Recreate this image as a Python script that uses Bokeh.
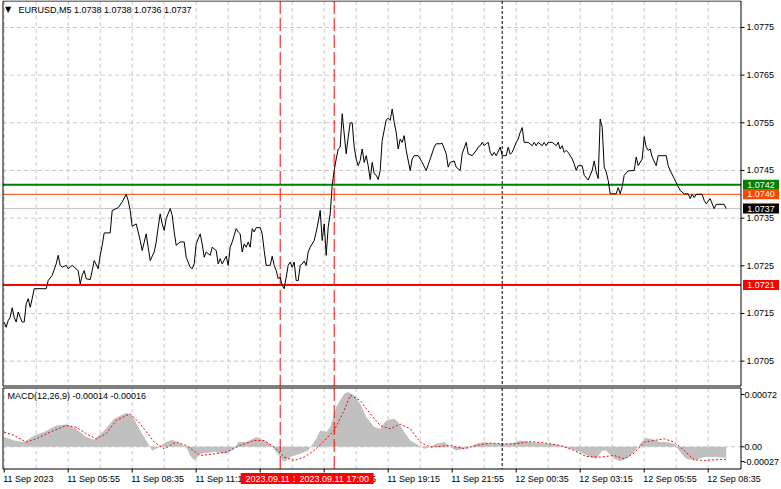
from bokeh.plotting import figure
from bokeh.models import Range1d
from bokeh.core.properties import value
from bokeh.embed import file_html
from bokeh.resources import INLINE

# ---------------- data (5-minute bars counted from 2023-09-11 00:00) ----------------
symbol = "EURUSD,M5"
ohlc_last = [1.0738, 1.0738, 1.0736, 1.0737]

bars = [39, 40, 41, 42, 43, 44, 45, 46, 47, 48, 49, 50, 51, 52, 53, 54, 60, 61, 63, 65,
        66, 67, 68, 70, 71, 73, 74, 76, 77, 78, 79, 80, 82, 83, 84, 86, 87, 88, 89, 92,
        93, 95, 96, 98, 100, 101, 102, 103, 105, 106, 107, 108, 110, 111, 112, 114, 115, 116, 117, 118,
        119, 120, 122, 123, 124, 125, 127, 129, 130, 132, 133, 134, 135, 137, 138, 139, 140, 142, 143, 145,
        146, 147, 148, 150, 151, 152, 153, 155, 156,
        157, 158, 159, 160, 161, 162, 163, 164, 165, 167, 168, 169, 170, 172, 173, 174, 175, 176, 177, 178,
        179, 180, 181, 182, 183, 184, 185, 186, 187, 188, 189, 190, 191, 192, 194, 195, 196, 197, 198, 199,
        200, 201, 202, 203, 204, 205, 206, 207, 208, 209, 210, 211, 212, 213, 214, 215, 216, 217, 218, 219,
        220, 221, 222, 223, 224, 225, 226, 227, 228, 230, 231, 232, 233, 234, 235, 236, 237, 238, 239, 240,
        242, 243, 244, 246, 248, 250, 252, 254, 255, 257, 258, 260, 261, 262, 264, 265, 267, 268, 270, 271,
        273, 275, 276, 277, 278, 279,
        280, 281, 282, 283, 284, 285, 287, 288, 290, 291, 292, 293, 295, 296, 297, 298, 299, 301, 303, 304,
        305, 306, 308, 309, 310, 311, 313, 315, 316, 317, 318, 319, 320, 321, 323, 324, 325, 326, 328, 329,
        331, 332, 333, 334, 335, 336, 337, 338, 339, 340, 341, 342, 345, 346, 347, 348, 349, 351, 354, 355,
        356, 358, 359, 360, 361, 362, 363, 365, 366, 370, 371, 372, 374, 376, 377, 379, 381, 382, 383, 384,
        385, 388, 389, 390, 392, 393, 394, 395, 399, 400]

closes = [1.07132, 1.07121, 1.07135, 1.07142, 1.07162, 1.07142, 1.07132, 1.07153, 1.07142, 1.07132,
          1.07132, 1.07170, 1.07181, 1.07163, 1.07181, 1.07202, 1.07202, 1.07219, 1.07230, 1.07254,
          1.07272, 1.07251, 1.07247, 1.07251, 1.07244, 1.07251, 1.07247, 1.07240, 1.07212, 1.07230,
          1.07240, 1.07223, 1.07221, 1.07240, 1.07261, 1.07244, 1.07272, 1.07293, 1.07319, 1.07319,
          1.07366, 1.07370, 1.07372, 1.07384, 1.07400, 1.07387, 1.07366, 1.07333, 1.07338, 1.07321,
          1.07303, 1.07282, 1.07317, 1.07289, 1.07261, 1.07279, 1.07300, 1.07331, 1.07359, 1.07338,
          1.07324, 1.07349, 1.07370, 1.07356, 1.07321, 1.07293, 1.07300, 1.07300, 1.07268, 1.07247,
          1.07244, 1.07254, 1.07296, 1.07317, 1.07296, 1.07268, 1.07279, 1.07272, 1.07289, 1.07282,
          1.07254, 1.07265, 1.07254, 1.07270, 1.07251, 1.07289, 1.07300, 1.07328, 1.07321,
          1.07317, 1.07279, 1.07296, 1.07289, 1.07300, 1.07289, 1.07328, 1.07321, 1.07330, 1.07330,
          1.07317, 1.07282, 1.07251, 1.07251, 1.07270, 1.07251, 1.07240, 1.07223, 1.07226, 1.07209,
          1.07202, 1.07226, 1.07251, 1.07258, 1.07247, 1.07258, 1.07219, 1.07219, 1.07251, 1.07254,
          1.07260, 1.07251, 1.07279, 1.07289, 1.07303, 1.07321, 1.07342, 1.07366, 1.07303, 1.07338,
          1.07272, 1.07331, 1.07359, 1.07419, 1.07450, 1.07474, 1.07495, 1.07499, 1.07569, 1.07527,
          1.07485, 1.07520, 1.07550, 1.07550, 1.07499, 1.07474, 1.07460, 1.07471, 1.07495, 1.07467,
          1.07481, 1.07460, 1.07431, 1.07467, 1.07443, 1.07440, 1.07431, 1.07450, 1.07513, 1.07556,
          1.07560, 1.07555, 1.07579, 1.07551, 1.07530, 1.07495, 1.07516, 1.07509, 1.07523, 1.07492,
          1.07450, 1.07474, 1.07481, 1.07481, 1.07467, 1.07450, 1.07474, 1.07499, 1.07506, 1.07506,
          1.07507, 1.07485, 1.07457, 1.07467, 1.07470, 1.07457, 1.07450, 1.07485, 1.07509, 1.07485,
          1.07481, 1.07492, 1.07499, 1.07502, 1.07509, 1.07502,
          1.07506, 1.07509, 1.07488, 1.07481, 1.07488, 1.07481, 1.07499, 1.07481, 1.07481, 1.07499,
          1.07484, 1.07488, 1.07509, 1.07516, 1.07530, 1.07540, 1.07509, 1.07509, 1.07502, 1.07509,
          1.07502, 1.07509, 1.07502, 1.07509, 1.07502, 1.07509, 1.07509, 1.07502, 1.07509, 1.07495,
          1.07502, 1.07488, 1.07492, 1.07488, 1.07474, 1.07464, 1.07450, 1.07460, 1.07460, 1.07440,
          1.07430, 1.07440, 1.07450, 1.07470, 1.07447, 1.07433, 1.07558, 1.07541, 1.07457, 1.07447,
          1.07429, 1.07401, 1.07401, 1.07414, 1.07401, 1.07416, 1.07440, 1.07449, 1.07450, 1.07478,
          1.07460, 1.07474, 1.07521, 1.07499, 1.07492, 1.07495, 1.07478, 1.07460, 1.07481, 1.07481,
          1.07460, 1.07450, 1.07433, 1.07416, 1.07408, 1.07401, 1.07401, 1.07391, 1.07400, 1.07393,
          1.07400, 1.07400, 1.07387, 1.07380, 1.07391, 1.07380, 1.07370, 1.07379, 1.07379, 1.07370]

macd_title = "MACD(12,26,9)"
macd_last = -0.00014
signal_last = -0.00016

hist_bars = [39, 44, 49, 54, 59, 65, 70, 75, 80, 84, 89, 94, 100, 103, 107, 110, 113, 115, 120, 123,
             127, 130, 132, 134, 137, 144, 150, 154, 156, 160, 165, 169, 172, 175, 179, 182, 187, 191, 195, 197,
             200, 202, 205, 209, 211, 214, 217, 220, 224, 227, 230, 234, 236, 239, 242, 245, 249, 252, 255, 259,
             262, 265, 269, 272, 275, 279, 282, 287, 292, 297, 302, 307, 312, 317, 322, 327, 332, 335, 338, 340,
             344, 347, 350, 354, 357, 360, 364, 367, 370, 374, 377, 380, 384, 389, 394, 400]
hist_vals = [0.000124, 0.000081, 0.000060, 0.000145, 0.000188, 0.000273, 0.000286, 0.000231, 0.000124, 0.000090,
             0.000209, 0.000359, 0.000436, 0.000401, 0.000209, 0.000081, -0.000047, -0.000026, 0.000060, 0.000090,
             0.000038, -0.000004, -0.000111, -0.000175, -0.000090, -0.000068, -0.000090, -0.000026, 0.000060, 0.000060,
             0.000124, 0.000081, 0.000038, -0.000068, -0.000196, -0.000132, -0.000090, -0.000047, 0.000102, 0.000209,
             0.000188, 0.000252, 0.000508, 0.000679, 0.000700, 0.000658, 0.000551, 0.000380, 0.000252, 0.000231,
             0.000337, 0.000359, 0.000316, 0.000188, 0.000081, 0.000038, -0.000026, -0.000004, 0.000038, 0.000060,
             -0.000004, -0.000047, -0.000026, -0.000004, 0.000038, 0.000060, 0.000047, 0.000038, 0.000038, 0.000081,
             0.000060, 0.000047, 0.000038, 0.000017, -0.000026, -0.000068, -0.000132, -0.000154, -0.000047, -0.000047,
             -0.000154, -0.000184, -0.000154, -0.000068, 0.000038, 0.000115, 0.000090, 0.000060, 0.000060, 0.000038,
             -0.000068, -0.000154, -0.000175, -0.000132, -0.000130, -0.000140]

sig_bars = [39, 44, 50, 55, 62, 70, 75, 80, 85, 90, 95, 102, 107, 114, 119, 125, 130, 137, 144, 150,
            157, 164, 169, 174, 179, 184, 189, 194, 200, 204, 209, 212, 217, 222, 227, 232, 237, 242, 247, 252,
            257, 262, 269, 275, 282, 289, 295, 302, 310, 317, 324, 330, 337, 344, 349, 354, 359, 364, 369, 374,
            379, 384, 389, 394, 400]
sig_vals = [0.000188, 0.000145, 0.000060, 0.000102, 0.000188, 0.000273, 0.000252, 0.000167, 0.000102, 0.000167,
            0.000337, 0.000423, 0.000295, 0.000060, -0.000026, 0.000060, 0.000017, -0.000111, -0.000090, -0.000068,
            0.000017, 0.000081, 0.000081, -0.000004, -0.000132, -0.000175, -0.000132, -0.000047, 0.000102, 0.000209,
            0.000465, 0.000658, 0.000594, 0.000423, 0.000273, 0.000231, 0.000290, 0.000231, 0.000060, -0.000004,
            0.000004, 0.000017, -0.000026, 0.000017, 0.000047, 0.000038, 0.000038, 0.000068, 0.000047, 0.000017,
            -0.000047, -0.000124, -0.000132, -0.000111, -0.000154, -0.000081, 0.000060, 0.000081, 0.000102, 0.000060,
            -0.000047, -0.000167, -0.000175, -0.000167, -0.000160]

price_ticks = [1.0705, 1.0715, 1.0725, 1.0735, 1.0745, 1.0755, 1.0765, 1.0775]
macd_tick_labels = ["0.00072", "0.00", "-0.00027"]

xtick_bars = [39, 71, 103, 135, 167, 199, 231, 263, 295, 327, 359, 391]
xtick_labels = ["11 Sep 2023", "11 Sep 05:55", "11 Sep 08:35", "11 Sep 11:15", "11 Sep 13:55",
                "11 Sep 16:35", "11 Sep 19:15", "11 Sep 21:55", "12 Sep 00:35", "12 Sep 03:15",
                "12 Sep 05:55", "12 Sep 08:35"]

level_prices = [1.0742, 1.0740, 1.0737, 1.0721]
vline_bars = [177, 204]
vline_labels = ["2023.09.11 14:45", "2023.09.11 17:00"]
day_sep_bar = 288

# ---------------- geometry / styling (pixels of the 781x489 canvas) ----------------
W, H = 781, 489
FONT = value("Liberation Sans")
FS = value("9px")
GRID_C = "#C8C8C8"

PX_PER_BAR = 2.0
BAR_AT_X0 = 37.15            # bar number at the left canvas edge
PX_PER_PRICE = 47670.0       # price scale of the main window
PRICE_AT_Y0 = 1.0755 + 122.3 / PX_PER_PRICE
MACD_PER_PX = 1.28e-5        # MACD window scale
MACD_AT_Y0 = 446.3 * MACD_PER_PX

PL, PR = 2.5, 740.5           # panel left / right borders
MT, MB = 0.5, 385.5           # main panel top / bottom
NT, NB = 387.5, 468.5         # MACD panel top / bottom


def X(px):
    return BAR_AT_X0 + px / PX_PER_BAR


def P(py):
    return PRICE_AT_Y0 - py / PX_PER_PRICE


def M(py):
    return MACD_AT_Y0 - py * MACD_PER_PX


level_colors = ["#008000", "#FF4500", "#C0C0C0", "#FF0000"]
level_widths = [2, 1, 1, 2]
box_colors = ["#008000", "#FF4500", "#000000", "#FF0000"]

p = figure(width=W, height=H, x_range=Range1d(X(0), X(W)), y_range=Range1d(P(H), P(0)),
           extra_y_ranges={"macd": Range1d(M(H), M(0))},
           output_backend="svg", toolbar_location=None,
           x_axis_location=None, y_axis_location=None, min_border=0,
           outline_line_color=None, background_fill_color="white", border_fill_color="white")
p.grid.visible = False

# ---- grids ----
grid_bars = [b for b in range(39, 408, 16) if X(PL) < b < X(PR - 2)]
n = len(grid_bars)
p.segment(x0=grid_bars, y0=[P(MT)] * n, x1=grid_bars, y1=[P(MB)] * n,
          line_color=GRID_C, line_width=1, line_dash="4 3")
p.segment(x0=grid_bars, y0=[M(NT)] * n, x1=grid_bars, y1=[M(NB)] * n,
          line_color=GRID_C, line_width=1, line_dash="4 3", y_range_name="macd")
m = len(price_ticks)
p.segment(x0=[X(PL)] * m, y0=price_ticks, x1=[X(PR)] * m, y1=price_ticks,
          line_color=GRID_C, line_width=1, line_dash="4 3")
p.segment(x0=[X(PL)], y0=[0.0], x1=[X(PR)], y1=[0.0],
          line_color=GRID_C, line_width=1, line_dash="4 3", y_range_name="macd")

# ---- MACD histogram + signal ----
p.varea(x=hist_bars, y1=0, y2=hist_vals, fill_color="#C0C0C0", y_range_name="macd")
p.line(sig_bars, sig_vals, line_color="#FF0000", line_width=1, line_dash="2 2", y_range_name="macd")

# ---- vertical lines through both windows ----
for b in vline_bars:
    p.segment(x0=[b], y0=[P(MT)], x1=[b], y1=[P(MB)], line_color="#FF0000", line_width=1, line_dash="13 4")
    p.segment(x0=[b], y0=[M(NT)], x1=[b], y1=[M(NB)], line_color="#FF0000", line_width=1, line_dash="13 4",
              y_range_name="macd")
p.segment(x0=[day_sep_bar], y0=[P(MT)], x1=[day_sep_bar], y1=[P(MB)], line_color="black", line_width=1,
          line_dash="3 2")
p.segment(x0=[day_sep_bar], y0=[M(NT)], x1=[day_sep_bar], y1=[M(NB)], line_color="black", line_width=1,
          line_dash="3 2", y_range_name="macd")

# ---- horizontal levels ----
for lv, c, w in zip(level_prices, level_colors, level_widths):
    p.segment(x0=[X(PL)], y0=[lv], x1=[X(PR)], y1=[lv], line_color=c, line_width=w)

# ---- price line ----
p.line(bars, closes, line_color="black", line_width=1)

# ---- window borders ----
p.quad(left=X(PL), right=X(PR), top=P(MT), bottom=P(MB), fill_color=None, line_color="black", line_width=1)
p.quad(left=X(PL), right=X(PR), top=M(NT), bottom=M(NB), fill_color=None, line_color="black", line_width=1,
       y_range_name="macd")

# ---- price scale (right) ----
p.segment(x0=[X(PR)] * m, y0=price_ticks, x1=[X(PR + 3.5)] * m, y1=price_ticks, line_color="black")
p.text(x=[X(746)] * m, y=price_ticks, text=[f"{t:.4f}" for t in price_ticks], text_font=FONT,
       text_font_size=FS, text_color="black", text_align="left", text_baseline="middle")

# ---- MACD scale (right) ----
macd_tick_y = [M(394), 0.0, M(461)]
p.segment(x0=[X(PR)] * 3, y0=macd_tick_y, x1=[X(PR + 3.5)] * 3, y1=macd_tick_y, line_color="black",
          y_range_name="macd")
p.text(x=[X(744), X(744), X(743)], y=macd_tick_y, text=macd_tick_labels, text_font=FONT, text_font_size=FS,
       text_color="black", text_align="left", text_baseline="middle", y_range_name="macd")

# ---- level price boxes on the scale ----
half_box = 5.0 / PX_PER_PRICE
for lv, c in zip(level_prices, box_colors):
    p.quad(left=X(742.5), right=X(778.5), top=lv + half_box, bottom=lv - half_box,
           fill_color=c, line_color=None)
    p.text(x=[X(760.5)], y=[lv], text=[f"{lv:.4f}"], text_font=FONT, text_font_size=FS,
           text_color="white", text_align="center", text_baseline="middle")

# ---- titles ----
title_text = symbol + "  " + " ".join(f"{v:.4f}" for v in ohlc_last)
p.text(x=[X(4.5)], y=[P(9)], text=["\u25bc"], text_font=value("DejaVu Sans"), text_font_size=value("8px"),
       text_color="black", text_baseline="middle")
p.text(x=[X(18)], y=[P(9)], text=[title_text], text_font=FONT, text_font_size=FS,
       text_color="black", text_baseline="middle")
p.text(x=[X(7)], y=[M(395)], text=[f"{macd_title} {macd_last:.5f} {signal_last:.5f}"], text_font=FONT,
       text_font_size=FS, text_color="black", text_baseline="middle", y_range_name="macd")

# ---- time scale (bottom) ----
k = len(xtick_bars)
p.segment(x0=xtick_bars, y0=[M(NB)] * k, x1=xtick_bars, y1=[M(472)] * k, line_color="black",
          y_range_name="macd")
p.text(x=xtick_bars, y=[M(478)] * k, text=xtick_labels, text_font=FONT, text_font_size=FS,
       text_color="black", text_align="left", text_baseline="middle", x_offset=-1, y_range_name="macd")
box_half = 39.5 / PX_PER_BAR
for b, t in zip(vline_bars, vline_labels):
    p.quad(left=b - box_half, right=b + box_half, top=M(472.5), bottom=M(483.5),
           fill_color="#FF0000", line_color=None, y_range_name="macd")
    p.text(x=[b], y=[M(478)], text=[t], text_font=FONT, text_font_size=FS, text_color="white",
           text_align="center", text_baseline="middle", y_range_name="macd")

open("out.html", "w").write(file_html(p, INLINE))
